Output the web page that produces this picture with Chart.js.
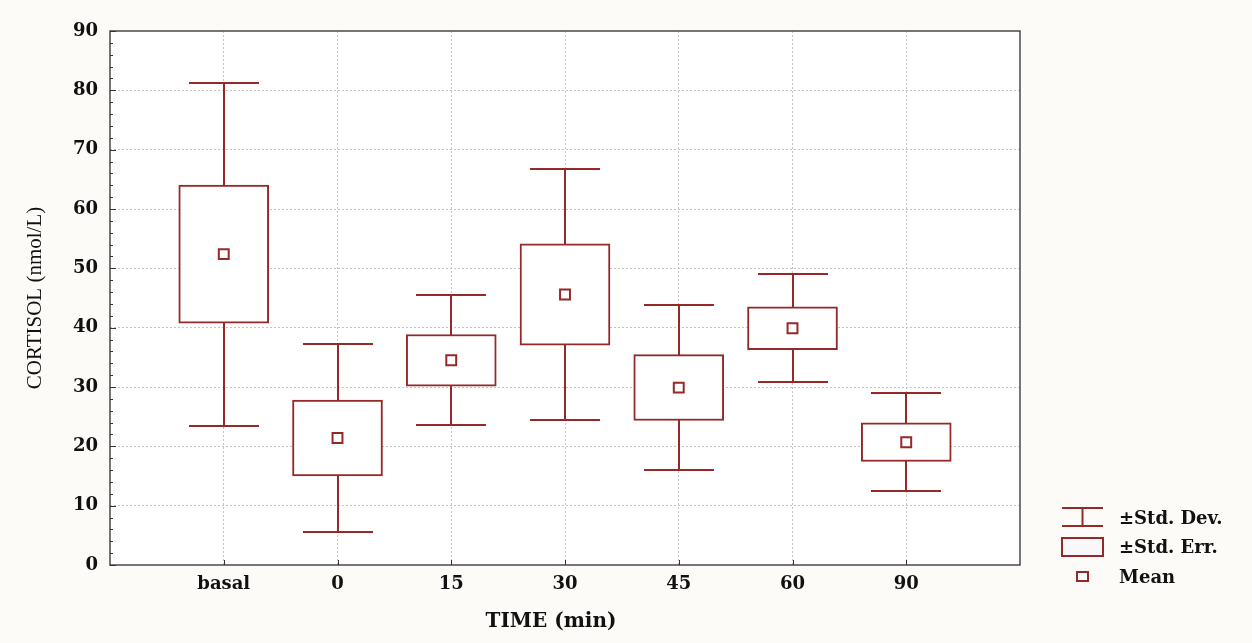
<!DOCTYPE html>
<html>
<head>
<meta charset="utf-8">
<script src="https://cdn.jsdelivr.net/npm/chart.js@4/dist/chart.umd.min.js"></script>
<style>
  html, body { margin: 0; padding: 0; background: #fdfbf7; }
  #wrap { width: 1252px; height: 643px; position: relative; }
</style>
</head>
<body>
<div id="wrap"><canvas id="c"></canvas></div>
<script>
// ---- data ----
const categories = ['basal', '0', '15', '30', '45', '60', '90'];
const means  = [52.4, 21.4, 34.5, 45.6, 29.9, 39.9, 20.7];
const stdErr = [11.65, 6.4, 4.35, 8.55, 5.55, 3.6, 3.25];
const stdDev = [28.9, 15.85, 10.95, 21.2, 13.95, 9.1, 8.3];
const yTicks = [0, 10, 20, 30, 40, 50, 60, 70, 80, 90];
const xTitle = 'TIME (min)';
const yTitle = 'CORTISOL (nmol/L)';
const legendLabels = ['±Std. Dev.', '±Std. Err.', 'Mean'];

const RED = '#962828';
const WIDE = '"DejaVu Serif", "Liberation Serif", serif';
const SERIF = '"Liberation Serif", "DejaVu Serif", serif';

const boxData = categories.map((c, i) => ({ x: i + 1, y: [means[i] - stdErr[i], means[i] + stdErr[i]] }));
const meanData = categories.map((c, i) => ({ x: i + 1, y: means[i] }));

const decor = {
  id: 'decor',
  beforeDraw(chart) {
    const { ctx, chartArea: a } = chart;
    ctx.save();
    ctx.fillStyle = '#ffffff';
    ctx.fillRect(a.left, a.top, a.right - a.left, a.bottom - a.top);
    ctx.restore();
  },
  beforeDatasetsDraw(chart) {
    const { ctx, scales: { x, y } } = chart;
    ctx.save();
    ctx.strokeStyle = RED;
    ctx.lineWidth = 2;
    categories.forEach((c, i) => {
      const px = Math.round(x.getPixelForValue(i + 1));
      const top = Math.round(y.getPixelForValue(means[i] + stdDev[i]));
      const bot = Math.round(y.getPixelForValue(means[i] - stdDev[i]));
      ctx.beginPath();
      ctx.moveTo(px, top); ctx.lineTo(px, bot);
      ctx.moveTo(px - 35, top); ctx.lineTo(px + 35, top);
      ctx.moveTo(px - 35, bot); ctx.lineTo(px + 35, bot);
      ctx.stroke();
    });
    ctx.restore();
  },
  afterDraw(chart) {
    const { ctx, chartArea: a, scales: { x, y } } = chart;
    ctx.save();
    // frame
    ctx.strokeStyle = '#4a4a4a';
    ctx.lineWidth = 1.5;
    ctx.strokeRect(a.left, a.top, a.right - a.left, a.bottom - a.top);
    // y minor / major inner ticks
    ctx.lineWidth = 1;
    ctx.strokeStyle = '#333';
    for (let v = 0; v <= 90; v += 2) {
      const py = Math.round(y.getPixelForValue(v)) + 0.5;
      const len = v % 10 === 0 ? 6 : 3;
      ctx.beginPath(); ctx.moveTo(a.left, py); ctx.lineTo(a.left + len, py); ctx.stroke();
    }
    // x inner ticks
    categories.forEach((c, i) => {
      const px = Math.round(x.getPixelForValue(i + 1)) + 0.5;
      ctx.beginPath(); ctx.moveTo(px, a.bottom); ctx.lineTo(px, a.bottom - 5); ctx.stroke();
    });
    // axis titles
    ctx.fillStyle = '#111';
    ctx.font = 'bold 20px ' + WIDE;
    ctx.textAlign = 'center';
    ctx.textBaseline = 'middle';
    ctx.fillText(xTitle, 551, 622);
    ctx.save();
    ctx.translate(35, (a.top + a.bottom) / 2);
    ctx.rotate(-Math.PI / 2);
    ctx.font = '21px ' + SERIF;
    ctx.fillText(yTitle, 0, 0);
    ctx.restore();
    // legend
    ctx.strokeStyle = RED;
    ctx.lineWidth = 2;
    ctx.beginPath();
    ctx.moveTo(1062, 508); ctx.lineTo(1103, 508);
    ctx.moveTo(1062, 526); ctx.lineTo(1103, 526);
    ctx.moveTo(1082.5, 508); ctx.lineTo(1082.5, 526);
    ctx.stroke();
    ctx.fillStyle = '#f8f8fb';
    ctx.fillRect(1062, 538, 41, 18);
    ctx.strokeRect(1062, 538, 41, 18);
    ctx.fillStyle = '#ffffff';
    ctx.fillRect(1077, 572, 11, 9);
    ctx.strokeRect(1077, 572, 11, 9);
    ctx.fillStyle = '#111';
    ctx.font = 'bold 18px ' + WIDE;
    ctx.textAlign = 'left';
    ctx.fillText(legendLabels[0], 1119, 519);
    ctx.fillText(legendLabels[1], 1119, 548);
    ctx.fillText(legendLabels[2], 1119, 578);
    ctx.restore();
  }
};

new Chart(document.getElementById('c'), {
  type: 'bar',
  data: {
    datasets: [
      {
        type: 'line',
        label: 'Mean',
        data: meanData,
        showLine: false,
        pointStyle: 'rect',
        pointRadius: 7,
        pointHoverRadius: 7,
        pointBackgroundColor: '#ffffff',
        pointBorderColor: RED,
        pointBorderWidth: 2,
        order: 0
      },
      {
        label: '±Std. Err.',
        data: boxData,
        backgroundColor: '#ffffff',
        borderColor: RED,
        borderWidth: 2,
        borderSkipped: false,
        barThickness: 90,
        grouped: false,
        order: 1
      }
    ]
  },
  options: {
    responsive: true,
    maintainAspectRatio: false,
    animation: false,
    layout: { padding: { left: 0, top: 31, right: 232, bottom: 0 } },
    plugins: { legend: { display: false }, tooltip: { enabled: false } },
    scales: {
      x: {
        type: 'linear',
        min: 0,
        max: 8,
        offset: false,
        afterBuildTicks: (s) => { s.ticks = categories.map((c, i) => ({ value: i + 1 })); },
        afterFit: (s) => { s.height = 78; },
        ticks: {
          callback: (v) => categories[v - 1],
          color: '#111',
          font: { family: WIDE, size: 18, weight: 'bold' },
          padding: 9,
          maxRotation: 0,
          autoSkip: false
        },
        grid: { offset: false, color: '#c4c4c4', lineWidth: 1, drawTicks: false },
        border: { display: false, dash: [2, 2] }
      },
      y: {
        type: 'linear',
        min: 0,
        max: 90,
        afterBuildTicks: (s) => { s.ticks = yTicks.map(v => ({ value: v })); },
        afterFit: (s) => { s.width = 110; },
        ticks: {
          color: '#111',
          font: { family: WIDE, size: 18, weight: 'bold' },
          padding: 12
        },
        grid: { color: (c) => (c.tick && (c.tick.value === 0 || c.tick.value === 90)) ? 'rgba(0,0,0,0)' : '#c4c4c4', lineWidth: 1, drawTicks: false },
        border: { display: false, dash: [2, 2] }
      }
    }
  },
  plugins: [decor]
});
</script>
</body>
</html>
